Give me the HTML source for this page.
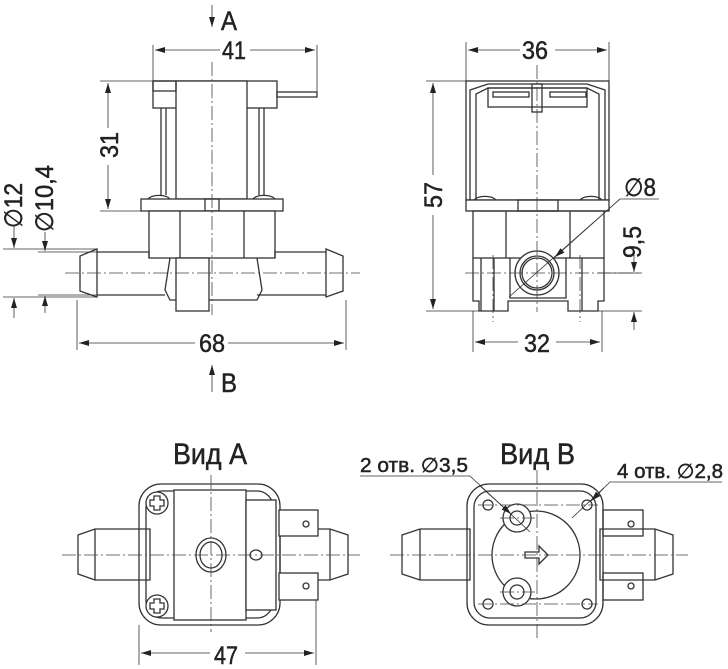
<!DOCTYPE html>
<html><head><meta charset="utf-8"><style>
html,body{margin:0;padding:0;background:#fff}
svg{display:block}
text{font-family:"Liberation Sans",sans-serif;fill:#222;stroke:#222;stroke-width:0.5}
</style></head><body>
<svg width="728" height="669" viewBox="0 0 728 669" xmlns="http://www.w3.org/2000/svg">
<defs>
<marker id="a" viewBox="0 0 10 6" refX="10" refY="3" markerWidth="10" markerHeight="6" orient="auto-start-reverse" markerUnits="userSpaceOnUse"><path d="M0,0L10,3L0,6z" fill="#222"/></marker>
</defs>
<g fill="none" stroke="#333" stroke-width="1.3">
<!-- FRONT VIEW -->
<rect x="153" y="81" width="124" height="27" fill="#fff"/>
<rect x="176" y="81" width="71" height="118" fill="#fff"/>
<rect x="153" y="81" width="23" height="10"/>
<rect x="277" y="92" width="40" height="5"/>
<line x1="161" y1="108" x2="161" y2="195"/><line x1="166" y1="108" x2="166" y2="195"/>
<line x1="259" y1="108" x2="259" y2="195"/><line x1="264" y1="108" x2="264" y2="195"/>
<path d="M148,199a12,6 0 0 1 22,0M253,199a12,6 0 0 1 22,0"/>
<rect x="141" y="199" width="142" height="12" fill="#fff"/>
<rect x="205" y="199" width="14" height="12"/>
<rect x="149" y="211" width="126" height="47" fill="#fff"/>
<line x1="180" y1="211" x2="180" y2="258"/><line x1="244" y1="211" x2="244" y2="258"/>
<path d="M97,252H149V258M275,258V252H326M97,295H165M257,295H326"/>
<path d="M97,249L80,256V291L97,297z"/>
<path d="M326,249L343,256V291L326,297z"/>
<path d="M170,258L165,290L170,300H257L262,290L257,258"/>
<rect x="176" y="258" width="33" height="53" fill="#fff"/>
<!-- SIDE VIEW -->
<rect x="466" y="81" width="143" height="119"/>
<path d="M470,200V90L488,84H587L605,90V200"/>
<path d="M476,200V94L488,88H587L599,94V200"/>
<rect x="488" y="88" width="99" height="19"/>
<rect x="493" y="92" width="36" height="5"/><rect x="550" y="92" width="36" height="5"/>
<rect x="532" y="84" width="10" height="28"/>
<path d="M474,200a12,6 0 0 1 22,0M580,200a12,6 0 0 1 22,0"/>
<rect x="466" y="200" width="143" height="11" fill="#fff"/>
<rect x="518" y="200" width="40" height="11"/>
<rect x="473" y="211" width="131" height="47"/>
<line x1="506" y1="211" x2="506" y2="258"/><line x1="570" y1="211" x2="570" y2="258"/>
<path d="M473,258V301H479V311H508V301H568V311H598V301H604V258"/>
<path d="M481,258V311M494,258V311M510,258V298H566V258M582,258V311"/>
<circle cx="537" cy="273" r="22" fill="#fff"/><circle cx="537" cy="273" r="17"/><circle cx="537" cy="273" r="15"/>
<!-- VIEW A -->
<rect x="139" y="484" width="141" height="141" rx="22"/>
<rect x="146" y="491" width="127" height="127" rx="16"/>
<path d="M78,535L95,529H150V580H95L78,574z"/><line x1="95" y1="529" x2="95" y2="580"/>
<path d="M348,535L330,529H280V580H330L348,574z"/><line x1="330" y1="529" x2="330" y2="580"/>
<rect x="174" y="490" width="72" height="130" fill="#fff"/>
<rect x="246" y="500" width="30" height="110" fill="#fff"/>
<rect x="279" y="510" width="39" height="26" fill="#fff"/><rect x="279" y="573" width="39" height="27" fill="#fff"/>
<circle cx="306" cy="524" r="3"/><circle cx="306" cy="586" r="3"/>
<ellipse cx="211" cy="555" rx="15" ry="17"/><ellipse cx="211" cy="555" rx="11" ry="13"/>
<ellipse cx="256" cy="555" rx="6" ry="5"/>
<circle cx="157" cy="503" r="11" fill="#fff"/><circle cx="157" cy="606" r="11" fill="#fff"/>
<path d="M154,496h6v4h4v6h-4v4h-6v-4h-4v-6h4z"/>
<path d="M154,599h6v4h4v6h-4v4h-6v-4h-4v-6h4z"/>
<!-- VIEW B -->
<rect x="467" y="484" width="136" height="141" rx="22"/>
<rect x="474" y="491" width="122" height="127" rx="16"/>
<path d="M402,535L420,529H470V580H420L402,574z"/><line x1="420" y1="529" x2="420" y2="580"/>
<path d="M673,535L655,529H600V580H655L673,574z"/><line x1="655" y1="529" x2="655" y2="580"/>
<rect x="603" y="510" width="40" height="26"/><rect x="603" y="573" width="40" height="27"/>
<circle cx="631" cy="524" r="3"/><circle cx="631" cy="586" r="3"/>
<circle cx="536" cy="555" r="44" fill="#fff"/>
<circle cx="517" cy="518" r="14" fill="#fff"/><circle cx="517" cy="518" r="7"/>
<circle cx="517" cy="592" r="14" fill="#fff"/><circle cx="517" cy="592" r="7"/>
<circle cx="488" cy="505" r="5"/><circle cx="587" cy="505" r="5"/><circle cx="488" cy="604" r="5"/><circle cx="587" cy="604" r="5"/>
<path d="M525,552h14v-6l9,9l-9,9v-6h-14z"/>
</g>
<!-- center lines -->
<g stroke="#444" stroke-width="0.8" stroke-dasharray="14,3,2,3" fill="none">
<line x1="212" y1="62" x2="212" y2="315"/><line x1="65" y1="273" x2="360" y2="273"/>
<line x1="537" y1="65" x2="537" y2="312"/><line x1="465" y1="273" x2="640" y2="273"/>
<line x1="493" y1="255" x2="493" y2="322"/><line x1="580" y1="255" x2="580" y2="322"/>
<line x1="62" y1="555" x2="360" y2="555"/><line x1="211" y1="475" x2="211" y2="632"/>
<line x1="390" y1="555" x2="688" y2="555"/><line x1="537" y1="470" x2="537" y2="640"/>
<line x1="500" y1="518" x2="535" y2="518"/><line x1="500" y1="592" x2="535" y2="592"/>
<line x1="478" y1="505" x2="598" y2="505"/><line x1="478" y1="604" x2="598" y2="604"/>
</g>
<!-- dimensions -->
<g stroke="#333" stroke-width="0.8" fill="none">
<path d="M153,45V81M317,45V95M100,81H153M100,211H141M77,300V350M346,300V350M3,249H97M3,297H97M38,252H97M38,295H97"/>
<line x1="155" y1="50" x2="220" y2="50" marker-start="url(#a)"/><line x1="250" y1="50" x2="315" y2="50" marker-end="url(#a)"/>
<line x1="108" y1="83" x2="108" y2="128" marker-start="url(#a)"/><line x1="108" y1="165" x2="108" y2="209" marker-end="url(#a)"/>
<line x1="79" y1="343" x2="195" y2="343" marker-start="url(#a)"/><line x1="228" y1="343" x2="344" y2="343" marker-end="url(#a)"/>
<line x1="212" y1="5" x2="212" y2="27" marker-end="url(#a)"/>
<line x1="212" y1="392" x2="212" y2="365" marker-end="url(#a)"/>
<line x1="14" y1="225" x2="14" y2="248" marker-end="url(#a)"/><line x1="14" y1="318" x2="14" y2="298" marker-end="url(#a)"/>
<line x1="45" y1="232" x2="45" y2="251" marker-end="url(#a)"/><line x1="45" y1="313" x2="45" y2="296" marker-end="url(#a)"/>
<path d="M466,42V81M609,42V81M426,81H466M426,311H479M473,311V352M602,311V352M598,273H642M598,311H642"/>
<line x1="468" y1="50" x2="520" y2="50" marker-start="url(#a)"/><line x1="555" y1="50" x2="607" y2="50" marker-end="url(#a)"/>
<line x1="433" y1="83" x2="433" y2="175" marker-start="url(#a)"/><line x1="433" y1="215" x2="433" y2="309" marker-end="url(#a)"/>
<line x1="475" y1="342" x2="518" y2="342" marker-start="url(#a)"/><line x1="556" y1="342" x2="600" y2="342" marker-end="url(#a)"/>
<line x1="634" y1="255" x2="634" y2="272" marker-end="url(#a)"/><line x1="634" y1="330" x2="634" y2="312" marker-end="url(#a)"/>
<path d="M659,199H620L509,297"/>
<line x1="620" y1="199" x2="555" y2="257" marker-end="url(#a)"/>
<path d="M139,625V665M316,600V665"/>
<line x1="141" y1="653" x2="210" y2="653" marker-start="url(#a)"/><line x1="245" y1="653" x2="314" y2="653" marker-end="url(#a)"/>
<path d="M360,476H470L530,532"/>
<line x1="480" y1="486" x2="511" y2="514" marker-end="url(#a)"/>
<path d="M722,482H610L572,518"/>
<line x1="604" y1="488" x2="591" y2="501" marker-end="url(#a)"/>
</g>
<!-- text -->
<g font-size="25">
<text x="221" y="30" font-size="27" textLength="16" lengthAdjust="spacingAndGlyphs">A</text>
<text x="221" y="392" font-size="27" textLength="16" lengthAdjust="spacingAndGlyphs">B</text>
<text x="222" y="59" textLength="24" lengthAdjust="spacingAndGlyphs">41</text>
<text x="199" y="352" textLength="26" lengthAdjust="spacingAndGlyphs">68</text>
<text x="118" y="158" transform="rotate(-90 118 158)" textLength="26" lengthAdjust="spacingAndGlyphs">31</text>
<text x="22" y="228" transform="rotate(-90 22 228)" textLength="45" lengthAdjust="spacingAndGlyphs">∅12</text>
<text x="53" y="232" transform="rotate(-90 53 232)" textLength="67" lengthAdjust="spacingAndGlyphs">∅10,4</text>
<text x="522" y="59" textLength="26" lengthAdjust="spacingAndGlyphs">36</text>
<text x="524" y="352" textLength="26" lengthAdjust="spacingAndGlyphs">32</text>
<text x="442" y="208" transform="rotate(-90 442 208)" textLength="26" lengthAdjust="spacingAndGlyphs">57</text>
<text x="641" y="258" transform="rotate(-90 641 258)" textLength="32" lengthAdjust="spacingAndGlyphs">9,5</text>
<text x="624" y="196" textLength="32" lengthAdjust="spacingAndGlyphs">∅8</text>
<text x="214" y="664" textLength="24" lengthAdjust="spacingAndGlyphs">47</text>
<text x="173" y="464" font-size="30" textLength="74" lengthAdjust="spacingAndGlyphs">Вид A</text>
<text x="500" y="464" font-size="30" textLength="75" lengthAdjust="spacingAndGlyphs">Вид B</text>
<text x="360" y="472" font-size="20" textLength="108" lengthAdjust="spacingAndGlyphs">2 отв. ∅3,5</text>
<text x="617" y="478" font-size="20" textLength="106" lengthAdjust="spacingAndGlyphs">4 отв. ∅2,8</text>
</g>
</svg>
</body></html>
